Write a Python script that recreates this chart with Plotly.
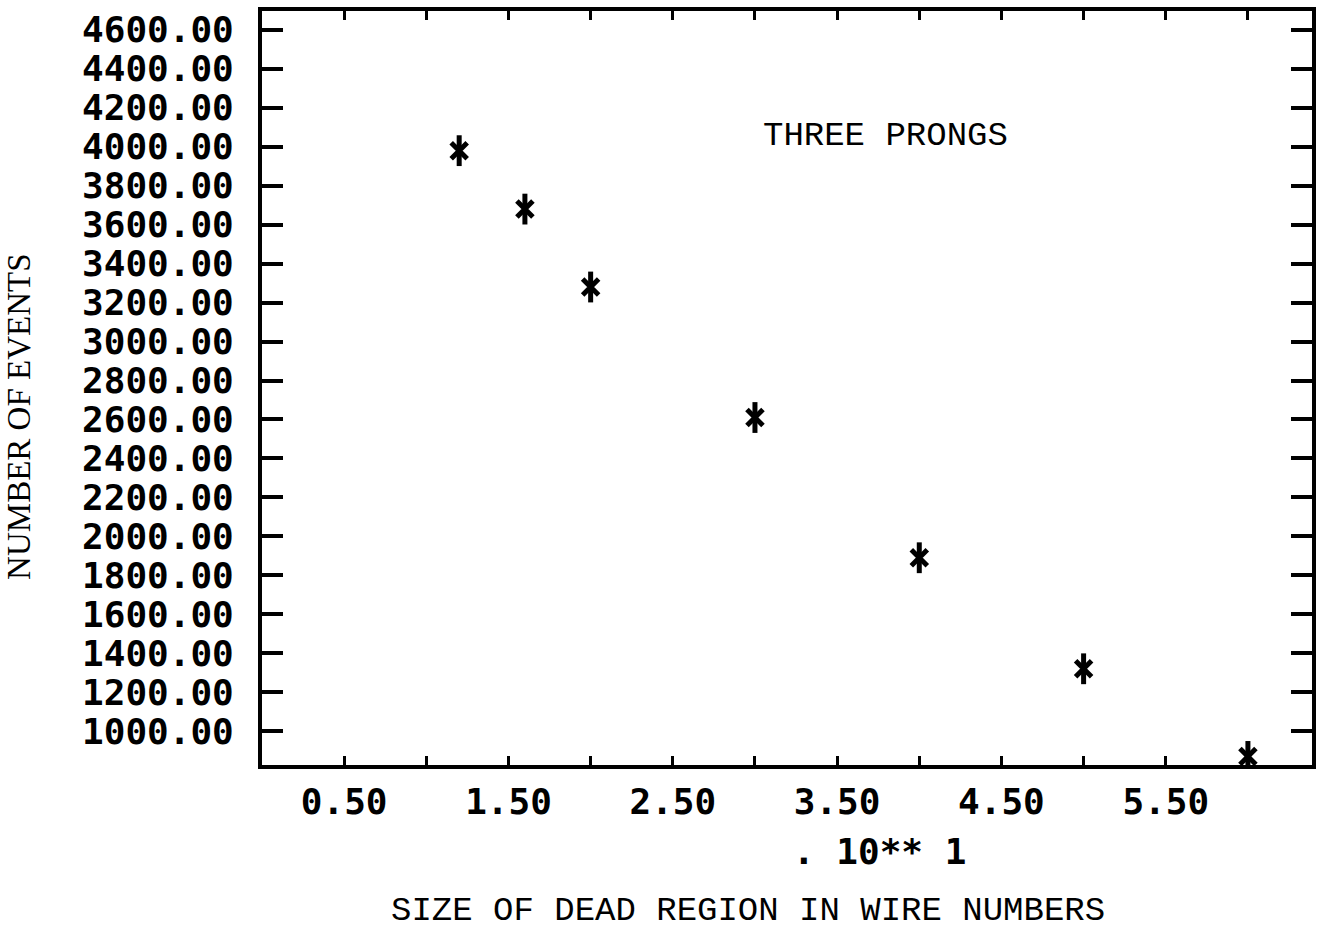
import plotly.graph_objects as go

# Size of the dead region (in units of 10 wire numbers) and surviving events
dead_region = [1.2, 1.6, 2.0, 3.0, 4.0, 5.0, 6.0]
n_events = [3980, 3680, 3280, 2610, 1890, 1320, 870]

x_label_vals = [0.5, 1.5, 2.5, 3.5, 4.5, 5.5]

TICK_FONT = dict(family="DejaVu Sans Mono", size=36, color="black", weight="bold")
TYPE_FONT = dict(family="Liberation Mono", size=34, color="black")

fig = go.Figure()

# Asterisk-like plotter marker: a diagonal cross plus a vertical stroke
fig.add_trace(go.Scatter(
    x=dead_region, y=n_events, mode="markers",
    marker=dict(symbol="x-thin-open", size=16, color="black",
                line=dict(width=5, color="black")),
    showlegend=False, hoverinfo="skip",
))
fig.add_trace(go.Scatter(
    x=dead_region, y=n_events, mode="markers",
    marker=dict(symbol="line-ns-open", size=22, color="black",
                line=dict(width=5, color="black")),
    showlegend=False,
))

fig.update_layout(
    width=1323, height=929,
    margin=dict(l=262, r=11, t=7, b=164),
    paper_bgcolor="white", plot_bgcolor="white",
    xaxis=dict(
        range=[0, 6.39],
        showline=True, linewidth=4, linecolor="black", mirror="allticks",
        showgrid=False, zeroline=False,
        tickmode="array", tickvals=x_label_vals, tickformat=".2f",
        ticks="inside", ticklen=9, tickwidth=3, tickcolor="black",
        minor=dict(dtick=0.5, tick0=0, ticks="inside", ticklen=9,
                   tickwidth=3, tickcolor="black", showgrid=False),
        tickfont=TICK_FONT, ticklabelstandoff=2,
    ),
    yaxis=dict(
        range=[826, 4697],
        showline=True, linewidth=4, linecolor="black", mirror="allticks",
        showgrid=False, zeroline=False,
        tick0=1000, dtick=200, tickformat=".2f",
        ticks="inside", ticklen=21, tickwidth=4, tickcolor="black",
        tickfont=TICK_FONT, ticklabelstandoff=17,
    ),
    annotations=[
        dict(text="THREE PRONGS", xref="x", yref="y", x=3.795, y=4054,
             showarrow=False, font=TYPE_FONT, xanchor="center", yanchor="middle"),
        dict(text=". 10** 1", xref="x", yref="paper", x=3.76, y=0, yshift=-86,
             showarrow=False, font=TICK_FONT, xanchor="center", yanchor="middle"),
        dict(text="SIZE OF DEAD REGION IN WIRE NUMBERS", xref="paper", yref="paper",
             x=0.463, y=0, yshift=-146, showarrow=False, font=TYPE_FONT,
             xanchor="center", yanchor="middle"),
        dict(text="NUMBER OF EVENTS", xref="paper", yref="paper",
             x=0, xshift=-243, y=0.4617, textangle=-90, showarrow=False,
             font=dict(family="Liberation Serif", size=33, color="black"),
             xanchor="center", yanchor="middle"),
    ],
)

fig.write_html("out.html")
